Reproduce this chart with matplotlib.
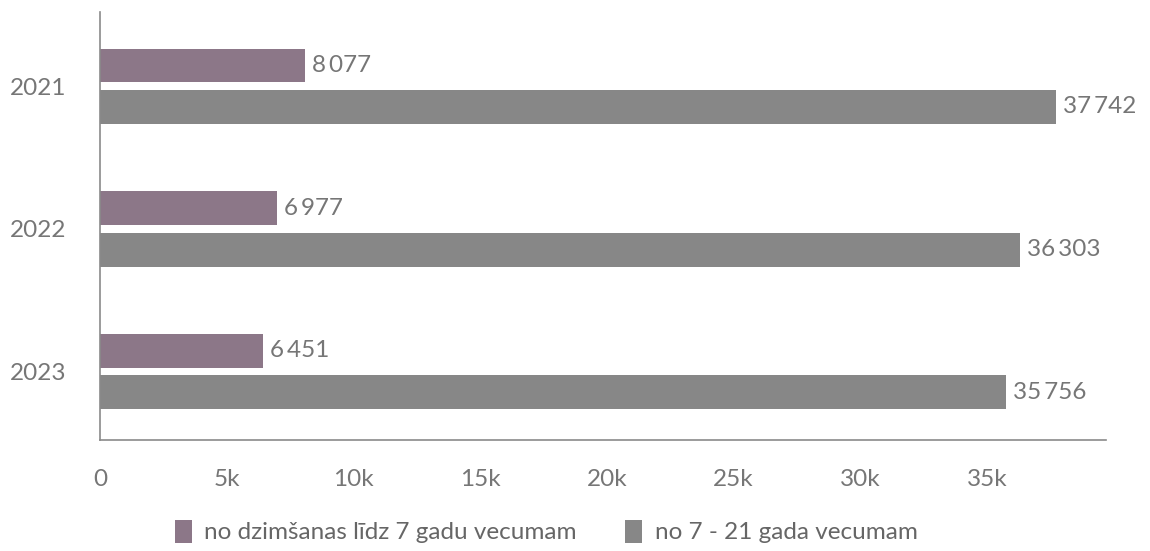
import matplotlib
matplotlib.use('Agg')
import matplotlib.pyplot as plt
import numpy as np

years = ['2021', '2022', '2023']
young = [8077, 6977, 6451]
older = [37742, 36303, 35756]
series_names = ['no dzimšanas līdz 7 gadu vecumam', 'no 7 - 21 gada vecumam']
xticks = [0, 5000, 10000, 15000, 20000, 25000, 30000, 35000]
xtick_labels = ['0', '5k', '10k', '15k', '20k', '25k', '30k', '35k']

plt.rcParams['font.family'] = ['Lato', 'DejaVu Sans']

purple = '#8c7788'
grey = '#878787'
txt = '#767676'

fig = plt.figure(figsize=(11.5, 5.51), dpi=100)
ax = fig.add_axes([100/1150, 111/551, 1006/1150, 428/551])

pos = np.arange(len(years))
h = 0.238
off = 0.145
b1 = ax.barh(pos - off, young, height=h, color=purple, label=series_names[0])
b2 = ax.barh(pos + off, older, height=h, color=grey, label=series_names[1])

def fmt(v):
    return f'{v:,}'.replace(',', '\u2009')

for bars, vals in ((b1, young), (b2, older)):
    for r, v in zip(bars, vals):
        ax.annotate(fmt(v), (r.get_width(), r.get_y() + r.get_height()/2),
                    xytext=(5, 0), textcoords='offset points',
                    va='center', ha='left', fontsize=17.5, color=txt)

ax.set_xlim(0, 39700)
ax.set_ylim(2.48, -0.52)
ax.set_yticks(pos)
ax.set_yticklabels(years)
ax.set_xticks(xticks)
ax.set_xticklabels(xtick_labels)
ax.tick_params(axis='both', length=0, labelsize=17.5, labelcolor=txt)
ax.tick_params(axis='x', pad=21)
ax.tick_params(axis='y', pad=24)
for s in ['top', 'right']:
    ax.spines[s].set_visible(False)
for s in ['left', 'bottom']:
    ax.spines[s].set_color('#8a8a8a')
    ax.spines[s].set_linewidth(1.2)

fig.legend(handles=[b1, b2], loc='lower center', bbox_to_anchor=(0.475, -0.026),
           ncol=2, frameon=False, fontsize=17.5, labelcolor='#666666',
           handlelength=0.7, handleheight=1.1, handletextpad=0.5, columnspacing=2.0)

plt.savefig('out.png', dpi=100)
